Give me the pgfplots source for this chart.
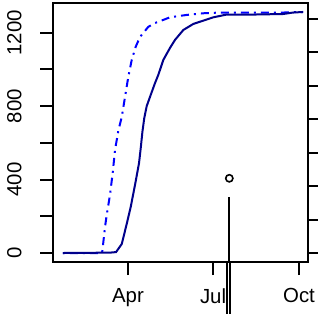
\documentclass[border=0pt]{standalone}
\usepackage{pgfplots}
\pgfplotsset{compat=1.18}
\usepackage{fontspec}
\setmainfont{Liberation Sans}
\definecolor{rdarkblue}{RGB}{0,0,139}
\definecolor{rblue}{RGB}{0,0,255}
\begin{document}
\begin{tikzpicture}
\begin{axis}[
  scale only axis, width=255pt, height=259pt,
  xmin=10.74, xmax=283.6, ymin=-49, ymax=1362,
  clip=false,
  axis line style={line width=2.1pt},
  every tick/.style={black, line width=2pt},
  tick align=outside, major tick length=13pt,
  xtick={91,182,274}, xticklabels={Apr,Jul,Oct},
  ytick={0,200,400,600,800,1000,1200},
  yticklabels={0,,400,,800,,1200},
  xtick pos=bottom, ytick pos=left,
  tick label style={font=\fontsize{20.4}{24}\selectfont},
  /pgf/number format/assume math mode=true,
  yticklabel style={xshift=-15pt, rotate=90, anchor=south},
  xticklabel style={anchor=north, yshift=-10pt},
]
\addplot[rblue, line width=2pt, dash pattern=on 2pt off 5pt on 8pt off 5pt] coordinates {
(21.4,0) (63.2,0) (63.9,27) (66.4,142) (68.2,207) (71.7,316) (74.6,436) (77.1,561)
(80.6,665) (84.3,741) (87.8,850) (91.3,959) (95.0,1052) (99.2,1123) (103.8,1177)
(107.4,1199) (112.7,1232) (119.9,1253) (128.8,1270) (135.9,1284) (153.8,1297)
(171.6,1306) (189.5,1310) (256.9,1310) (278.3,1313)};
\addplot[rdarkblue, line width=2pt] coordinates {
(21.4,0) (71.7,2) (78.2,5) (84.3,49) (89.6,158) (93.9,251) (98.5,371) (102.8,490)
(104.8,580) (106.4,660) (108.4,735) (111.0,800) (114.5,850) (119.9,926) (123.4,970) (128.8,1052)
(135.9,1117) (141.3,1161) (150.2,1215) (160.9,1248) (171.6,1266) (182.3,1284)
(196.6,1299) (224.8,1299) (256.9,1302) (267.6,1310) (278.3,1313)};
\addplot[black, only marks, mark=o, mark size=3.6pt, mark options={line width=1.6pt}] coordinates {(199.4,407)};
\addplot[black, line width=2pt] coordinates {(199.5,305) (199.5,-49)};
\addplot[black, line width=1.4pt] coordinates {(200.0,-49) (200.0,-360)};
\addplot[black, line width=1.4pt] coordinates {(196.8,-49) (196.8,-360)};
\end{axis}
\begin{axis}[
  scale only axis, width=255pt, height=259pt,
  xmin=10.74, xmax=283.6, ymin=-49, ymax=1362,
  axis x line=none, axis y line*=right,
  axis line style={line width=2.1pt},
  every tick/.style={black, line width=2pt},
  tick align=outside, major tick length=13pt,
  ytick={0,182,364,546,728,911,1093,1275}, yticklabels={},
]
\end{axis}
\pgfresetboundingbox
\path ([shift={(-53pt,-51pt)}]current axis.south west) rectangle ([shift={(10pt,3pt)}]current axis.north east);
\end{tikzpicture}
\end{document}
